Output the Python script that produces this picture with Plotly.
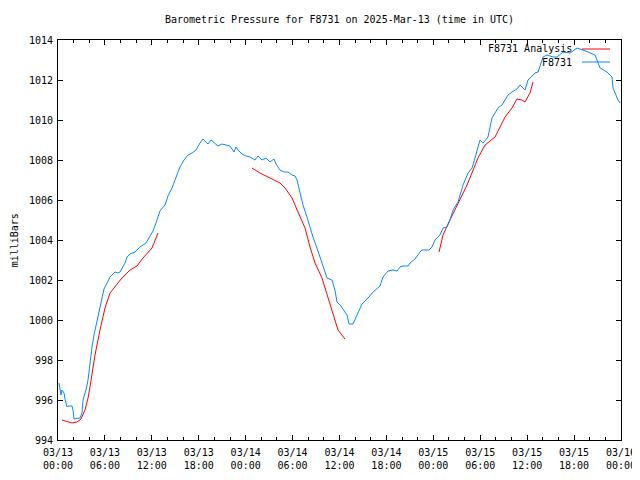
import pandas as pd
import plotly.graph_objects as go

start = pd.Timestamp("2025-03-13 00:00")

# Observed pressure (F8731): hours since start, millibars
obs_hours = [0.13, 0.38, 0.51, 0.77, 0.90, 1.15, 1.28, 1.79, 1.92, 2.05, 2.81, 3.07, 3.20, 3.58,
             3.84, 4.09, 4.35, 4.60, 4.99, 5.37, 5.63, 5.88, 6.27, 6.65, 7.29, 7.67, 7.93, 8.18,
             8.57, 8.82, 9.21, 9.85, 10.49, 11.25, 11.77, 12.15, 12.53, 12.79, 13.04, 13.68,
             14.07, 14.58, 15.09, 15.60, 16.11, 16.63, 17.14, 17.65, 18.16, 18.54, 18.93, 19.18,
             19.57, 19.95, 20.46, 20.97, 21.49, 22.00, 22.51, 22.76, 23.02, 23.53, 24.04, 24.55,
             25.19, 25.58, 26.09, 26.60, 27.11, 27.62, 27.88, 28.39, 28.90, 29.41, 29.93, 30.31,
             30.57, 30.95, 31.33, 31.84, 32.23, 32.61, 33.12, 33.51, 33.89, 34.40, 35.04, 35.42,
             35.68, 36.19, 36.70, 36.96, 37.22, 37.73, 38.24, 38.88, 39.77, 40.29, 41.18, 41.56,
             42.20, 42.84, 43.35, 43.74, 44.12, 44.76, 45.02, 45.66, 46.30, 46.55, 47.45, 47.83,
             48.21, 48.85, 49.24, 49.75, 50.13, 50.52, 51.16, 51.80, 52.44, 52.95, 53.33, 53.97,
             54.36, 54.99, 55.50, 56.27, 56.78, 57.55, 58.06, 58.70, 59.08, 59.72, 60.11, 61.00,
             61.39, 62.03, 62.54, 63.31, 63.82, 64.58, 65.48, 66.38, 67.14, 68.04, 68.68, 69.32,
             70.21, 70.85, 70.98, 71.62, 71.88]
obs_mb = [996.85, 996.25, 996.5, 996.35, 996.05, 995.65, 995.7, 995.7, 995.5, 995.05, 995.1,
          995.35, 996.0, 996.5, 997.0, 997.9, 998.65, 999.25, 1000.0, 1000.75, 1001.2, 1001.55,
          1001.85, 1002.15, 1002.4, 1002.35, 1002.4, 1002.6, 1002.85, 1003.15, 1003.3, 1003.4,
          1003.65, 1003.85, 1004.2, 1004.45, 1004.85, 1005.2, 1005.45, 1005.75, 1006.2, 1006.6,
          1007.1, 1007.65, 1008.0, 1008.25, 1008.35, 1008.5, 1008.85, 1009.05, 1008.9, 1008.8,
          1009.0, 1008.85, 1008.7, 1008.8, 1008.75, 1008.7, 1008.4, 1008.65, 1008.5, 1008.3,
          1008.2, 1008.15, 1008.0, 1008.2, 1008.0, 1008.1, 1007.9, 1008.05, 1007.8, 1007.5,
          1007.4, 1007.4, 1007.25, 1007.2, 1007.0, 1006.35, 1005.75, 1005.15, 1004.6, 1004.15,
          1003.6, 1003.15, 1002.8, 1002.1, 1002.0, 1001.5, 1000.9, 1000.7, 1000.4, 1000.25,
          999.8, 999.8, 1000.25, 1000.8, 1001.15, 1001.4, 1001.7, 1002.15, 1002.45, 1002.5,
          1002.45, 1002.65, 1002.7, 1002.7, 1002.85, 1003.05, 1003.4, 1003.5, 1003.5, 1003.65,
          1004.0, 1004.25, 1004.6, 1004.65, 1005.0, 1005.5, 1005.9, 1006.75, 1007.35, 1007.6,
          1008.1, 1009.0, 1008.85, 1009.15, 1010.1, 1010.6, 1010.75, 1011.25, 1011.4, 1011.55,
          1011.75, 1011.5, 1012.0, 1012.35, 1012.4, 1013.15, 1013.25, 1013.15, 1013.15, 1013.4,
          1013.35, 1013.6, 1013.5, 1013.35, 1013.25, 1012.6, 1012.4, 1012.15, 1011.6, 1011.0,
          1010.85]

# Analysis runs (F8731 Analysis): hours since start, millibars
ana1_hours = [0.51, 1.02, 1.79, 2.43, 2.94, 3.45, 3.84, 4.09, 4.48, 4.73, 5.37, 6.01, 6.65,
              7.29, 8.18, 9.21, 10.10, 10.87, 12.02, 12.79]
ana1_mb = [995.0, 994.95, 994.85, 994.9, 995.05, 995.5, 996.1, 996.65, 997.75, 998.25, 999.5,
           1000.6, 1001.35, 1001.65, 1002.1, 1002.5, 1002.7, 1003.1, 1003.6, 1004.35]
ana2_hours = [24.81, 25.83, 27.11, 28.39, 29.03, 29.93, 30.69, 31.59, 32.23, 32.87, 33.76,
              34.53, 35.17, 35.81, 36.70]
ana2_mb = [1007.6, 1007.35, 1007.1, 1006.85, 1006.6, 1006.1, 1005.4, 1004.6, 1003.65, 1002.85,
           1002.1, 1001.15, 1000.35, 999.5, 999.05]
ana3_hours = [48.73, 49.24, 49.88, 50.64, 51.41, 52.31, 53.71, 54.61, 55.89, 57.17, 58.06,
              58.70, 59.34, 59.72, 60.36, 60.75]
ana3_mb = [1003.4, 1004.25, 1004.8, 1005.4, 1006.0, 1006.75, 1008.1, 1008.75, 1009.15, 1010.15,
           1010.6, 1011.05, 1011.0, 1010.9, 1011.35, 1011.9]

tick_vals = ["2025-03-13 00:00", "2025-03-13 06:00", "2025-03-13 12:00", "2025-03-13 18:00",
             "2025-03-14 00:00", "2025-03-14 06:00", "2025-03-14 12:00", "2025-03-14 18:00",
             "2025-03-15 00:00", "2025-03-15 06:00", "2025-03-15 12:00", "2025-03-15 18:00",
             "2025-03-16 00:00"]
tick_text = ["03/13<br>00:00", "03/13<br>06:00", "03/13<br>12:00", "03/13<br>18:00",
             "03/14<br>00:00", "03/14<br>06:00", "03/14<br>12:00", "03/14<br>18:00",
             "03/15<br>00:00", "03/15<br>06:00", "03/15<br>12:00", "03/15<br>18:00",
             "03/16<br>00:00"]
y_ticks = list(range(994, 1015, 2))


def to_time(hours):
    return [start + pd.Timedelta(hours=h) if h is not None else None for h in hours]


ana_hours = ana1_hours + [None] + ana2_hours + [None] + ana3_hours
ana_mb = ana1_mb + [None] + ana2_mb + [None] + ana3_mb

FONT = "DejaVu Sans Mono"
RED = "#ff0000"
BLUE = "#0a86ff"

# the page adds an 8px body margin, so margins are offset to place the plot box
W, H = 640, 480

fig = go.Figure()
fig.add_trace(go.Scatter(x=to_time(ana_hours), y=ana_mb, mode="lines",
                         line=dict(color=RED, width=1), connectgaps=False,
                         name="F8731 Analysis", showlegend=False))
fig.add_trace(go.Scatter(x=to_time(obs_hours), y=obs_mb, mode="lines",
                         line=dict(color=BLUE, width=1), name="F8731", showlegend=False))

# gnuplot-style key: text on the left, sample line on the right
key = [("F8731 Analysis", RED, 0.9775), ("F8731", BLUE, 0.945)]
for label, col, yy in key:
    fig.add_annotation(xref="paper", yref="paper", x=0.9165, y=yy, text=label,
                       showarrow=False, xanchor="right", yanchor="middle",
                       font=dict(family=FONT, size=10, color="black"))
    fig.add_shape(type="line", xref="paper", yref="paper", x0=0.9307, x1=0.9805,
                  y0=yy, y1=yy, line=dict(color=col, width=1))

fig.add_annotation(xref="paper", yref="paper", x=-0.0775, y=0.5, text="milliBars",
                   textangle=-90, showarrow=False, xanchor="center", yanchor="middle",
                   font=dict(family=FONT, size=10, color="black"))

fig.update_layout(
    width=W, height=H,
    margin=dict(l=50, r=27, t=32, b=48, autoexpand=False),
    paper_bgcolor="white", plot_bgcolor="white",
    title=dict(text="Barometric Pressure for F8731 on 2025-Mar-13 (time in UTC)",
               x=0.5, xref="paper", y=1 - 11 / H, yanchor="middle", automargin=False,
               font=dict(family=FONT, size=10, color="black")),
    font=dict(family=FONT, size=10, color="black"),
)
fig.update_xaxes(type="date", range=[start, start + pd.Timedelta(hours=72)],
                 tickvals=tick_vals, ticktext=tick_text, ticks="inside", ticklen=5,
                 tickcolor="black", tickwidth=1, showline=True, linecolor="black",
                 linewidth=1, mirror="allticks", showgrid=False, zeroline=False,
                 automargin=False, ticklabelstandoff=3,
                 minor=dict(ticks="inside", ticklen=3, dtick=2 * 3600 * 1000,
                            tickcolor="black", showgrid=False),
                 tickfont=dict(family=FONT, size=10, color="black"))
fig.update_yaxes(range=[994, 1014], tickvals=y_ticks, ticks="inside", ticklen=5,
                 tickcolor="black", tickwidth=1, showline=True, linecolor="black",
                 linewidth=1, mirror="allticks", showgrid=False, zeroline=False,
                 automargin=False, ticklabelstandoff=2,
                 tickfont=dict(family=FONT, size=10, color="black"))

fig.write_html("out.html")
